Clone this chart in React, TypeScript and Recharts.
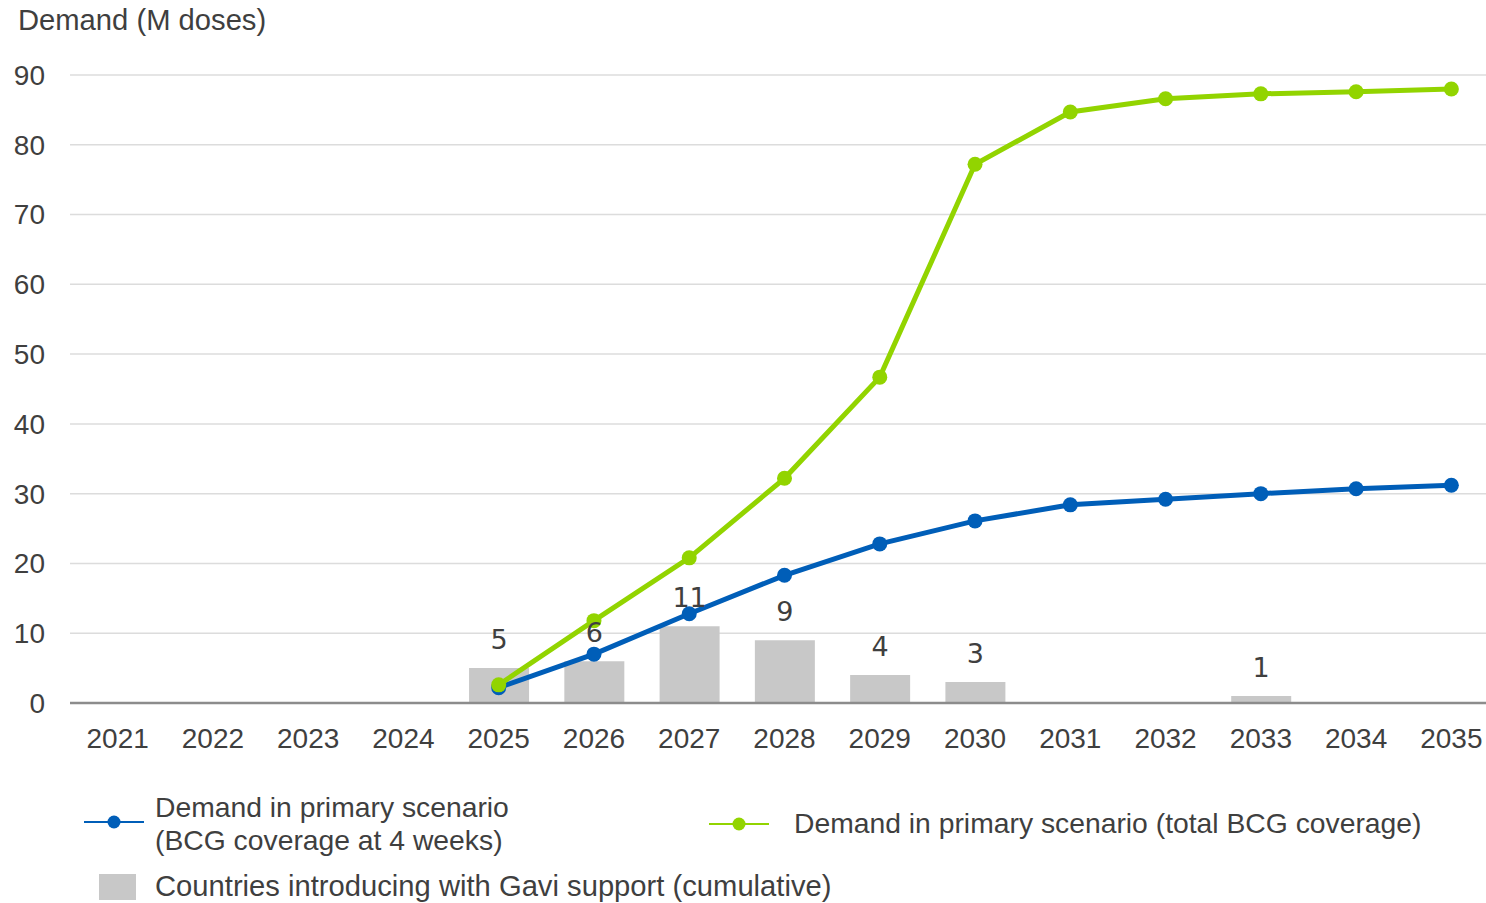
import React from "react"
import {
	ComposedChart,
	Bar,
	Line,
	XAxis,
	YAxis,
	CartesianGrid,
	LabelList,
} from "recharts"

const years = [
	"2021", "2022", "2023", "2024", "2025", "2026", "2027", "2028",
	"2029", "2030", "2031", "2032", "2033", "2034", "2035",
]

// countries introducing with Gavi support (cumulative)
const countriesIntroducing = [
	null, null, null, null, 5, 6, 11, 9, 4, 3, null, null, 1, null, null,
]

// demand in primary scenario, M doses (BCG coverage at 4 weeks)
const demandAt4Weeks = [
	null, null, null, null, 2.2, 7.0, 12.8, 18.3, 22.8, 26.1, 28.4, 29.2, 30.0,
	30.7, 31.2,
]

// demand in primary scenario, M doses (total BCG coverage)
const demandTotalCoverage = [
	null, null, null, null, 2.6, 11.8, 20.8, 32.2, 46.7, 77.2, 84.7, 86.6, 87.3,
	87.6, 88.0,
]

const yTicks = [0, 10, 20, 30, 40, 50, 60, 70, 80, 90]

const BLUE = "#005EB8"
const GREEN = "#92D400"
const GREY = "#C8C8C8"
const TEXT = "#3F3F3F"
const FONT = "'Liberation Sans', Arial, sans-serif"

const data = years.map((year, i) => ({
	year,
	countries: countriesIntroducing[i],
	weeks4: demandAt4Weeks[i],
	total: demandTotalCoverage[i],
}))

const renderBarLabel = (props: any) => {
	const { x, y, width, value } = props
	if (value === null || value === undefined) return null
	return (
		<text
			x={Number(x) + Number(width) / 2}
			y={Number(y) - 19}
			textAnchor="middle"
			fontFamily="'DejaVu Sans', sans-serif"
			fontSize={27}
			fill={TEXT}
		>
			{value}
		</text>
	)
}

const LineIcon: React.FC<{ color: string }> = ({ color }) => (
	<svg width={60} height={16} style={{ display: "block" }}>
		<line x1={0} y1={8} x2={60} y2={8} stroke={color} strokeWidth={2} />
		<circle cx={30} cy={8} r={6.5} fill={color} />
	</svg>
)

const textStyle: React.CSSProperties = {
	position: "absolute",
	fontFamily: FONT,
	fontSize: 28.3,
	lineHeight: "33px",
	color: TEXT,
	whiteSpace: "nowrap",
}

const App: React.FC = () => (
	<div
		style={{
			position: "absolute",
			left: 0,
			top: 0,
			width: 1486,
			height: 903,
			overflow: "hidden",
			background: "#fff",
		}}
	>
		<div style={{ ...textStyle, fontSize: 29.2, left: 18, top: 4 }}>
			Demand (M doses)
		</div>

		<ComposedChart
			width={1499}
			height={903}
			data={data}
			margin={{ top: 75, right: 0, bottom: 140, left: 0 }}
		>
			<CartesianGrid vertical={false} stroke="#DCDCDC" strokeWidth={1.5} />
			<XAxis
				dataKey="year"
				interval={0}
				height={60}
				tickLine={false}
				tickSize={0}
				tickMargin={25}
				axisLine={{ stroke: "#8C8C8C", strokeWidth: 2.5 }}
				tick={{ fontFamily: FONT, fontSize: 28, fill: TEXT }}
			/>
			<YAxis
				width={70}
				domain={[0, 90]}
				ticks={yTicks}
				axisLine={false}
				tickLine={false}
				tickSize={0}
				tickMargin={25}
				tick={{ fontFamily: FONT, fontSize: 28, fill: TEXT }}
			/>
			<Bar
				dataKey="countries"
				fill={GREY}
				barSize={60}
				isAnimationActive={false}
			>
				<LabelList dataKey="countries" content={renderBarLabel} />
			</Bar>
			<Line
				dataKey="weeks4"
				stroke={BLUE}
				strokeWidth={5}
				dot={{ r: 7.5, fill: BLUE, stroke: BLUE, strokeWidth: 0 }}
				activeDot={false}
				isAnimationActive={false}
			/>
			<Line
				dataKey="total"
				stroke={GREEN}
				strokeWidth={5}
				dot={{ r: 7.5, fill: GREEN, stroke: GREEN, strokeWidth: 0 }}
				activeDot={false}
				isAnimationActive={false}
			/>
		</ComposedChart>

		{/* legend */}
		<div style={{ position: "absolute", left: 84, top: 814 }}>
			<LineIcon color={BLUE} />
		</div>
		<div style={{ ...textStyle, left: 155, top: 791 }}>
			Demand in primary scenario
			<br />
			(BCG coverage at 4 weeks)
		</div>

		<div style={{ position: "absolute", left: 709, top: 816 }}>
			<LineIcon color={GREEN} />
		</div>
		<div style={{ ...textStyle, left: 794, top: 807 }}>
			Demand in primary scenario (total BCG coverage)
		</div>

		<div
			style={{
				position: "absolute",
				left: 99,
				top: 874,
				width: 37,
				height: 26,
				background: GREY,
			}}
		/>
		<div style={{ ...textStyle, fontSize: 29.2, left: 155, top: 870 }}>
			Countries introducing with Gavi support (cumulative)
		</div>
	</div>
)

export default App
